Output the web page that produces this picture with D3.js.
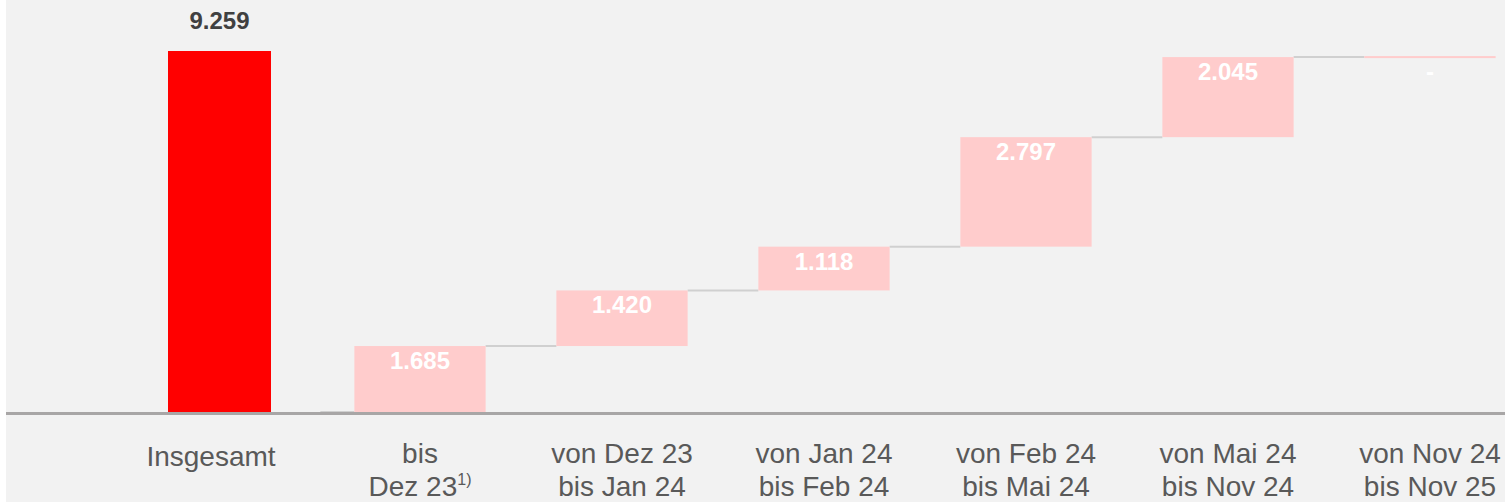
<!DOCTYPE html>
<html>
<head>
<meta charset="utf-8">
<script src="https://cdn.jsdelivr.net/npm/d3@7"></script>
<style>
  html, body { margin: 0; padding: 0; background: #ffffff; }
  svg { display: block; }
  text { font-family: "Liberation Sans", Arial, sans-serif; }
</style>
</head>
<body>
<div id="chart"></div>
<script>
"use strict";

// data
const totalLabel = "Insgesamt";
const totalValue = 9.259;
const stepLines1 = ["bis", "von Dez 23", "von Jan 24", "von Feb 24", "von Mai 24", "von Nov 24"];
const stepLines2 = ["Dez 23", "bis Jan 24", "bis Feb 24", "bis Mai 24", "bis Nov 24", "bis Nov 25"];
const stepValues = [1.685, 1.420, 1.118, 2.797, 2.045, 0];
const stepLabels = ["1.685", "1.420", "1.118", "2.797", "2.045", "-"];

const width = 1505;
const height = 502;

const svg = d3.select("#chart")
    .append("svg")
    .attr("width", width)
    .attr("height", height);

// background panel
svg.append("rect")
    .attr("x", 6)
    .attr("y", 0)
    .attr("width", width - 6)
    .attr("height", height)
    .attr("fill", "#f2f2f2");

const categories = [totalLabel].concat(stepLines1.map((d, i) => i + ""));

const xScale = d3.scaleBand()
    .domain(categories)
    .range([117, 1531])
    .paddingInner(0.35)
    .paddingOuter(0.175);

const yScale = d3.scaleLinear()
    .domain([0, totalValue])
    .range([412, 49.5]);

// running totals for waterfall
let run = 0;
const steps = stepValues.map((v, i) => {
    const start = run;
    run += v;
    return { key: i + "", start: start, end: run, label: stepLabels[i] };
});

// total bar (narrower)
const totalW = 103;
const totalX = xScale(totalLabel) + xScale.bandwidth() / 2 - totalW / 2 + 1.5;
svg.append("rect")
    .attr("x", totalX)
    .attr("y", yScale(totalValue) + 1.5)
    .attr("width", totalW)
    .attr("height", yScale(0) - yScale(totalValue) - 1.5)
    .attr("fill", "#ff0000");

svg.append("text")
    .attr("x", totalX + totalW / 2)
    .attr("y", 29)
    .attr("text-anchor", "middle")
    .attr("font-size", 24)
    .attr("font-weight", "bold")
    .attr("fill", "#404040")
    .text("9.259");

// connectors
const connectors = steps.map((d, i) => ({
    x1: i === 0 ? xScale(d.key) - 34 : xScale(steps[i - 1].key) + xScale.bandwidth(),
    x2: xScale(d.key),
    v: d.start
}));

svg.selectAll("line.conn")
    .data(connectors)
    .enter()
    .append("line")
    .attr("class", "conn")
    .attr("x1", d => d.x1)
    .attr("x2", d => d.x2)
    .attr("y1", d => yScale(d.v))
    .attr("y2", d => yScale(d.v))
    .attr("stroke", "#d0d0d0")
    .attr("stroke-width", 2);

// step bars
svg.selectAll("rect.step")
    .data(steps)
    .enter()
    .append("rect")
    .attr("class", "step")
    .attr("x", d => xScale(d.key))
    .attr("y", d => yScale(d.end) - (d.end === d.start ? 1 : 0))
    .attr("width", xScale.bandwidth())
    .attr("height", d => Math.max(2, yScale(d.start) - yScale(d.end)))
    .attr("fill", "#ffcccc");

svg.selectAll("text.val")
    .data(steps)
    .enter()
    .append("text")
    .attr("class", "val")
    .attr("x", d => xScale(d.key) + xScale.bandwidth() / 2)
    .attr("y", d => yScale(d.end) + 23)
    .attr("text-anchor", "middle")
    .attr("font-size", 24)
    .attr("font-weight", "bold")
    .attr("fill", "#ffffff")
    .text(d => d.label);

// axis line
svg.append("line")
    .attr("x1", 6)
    .attr("x2", width)
    .attr("y1", 413.5)
    .attr("y2", 413.5)
    .attr("stroke", "#a8a6a6")
    .attr("stroke-width", 3);

// category labels
svg.append("text")
    .attr("x", xScale(totalLabel) + xScale.bandwidth() / 2 - 7)
    .attr("y", 466)
    .attr("text-anchor", "middle")
    .attr("font-size", 28)
    .attr("fill", "#595959")
    .text(totalLabel);

const catLabels = svg.selectAll("text.cat")
    .data(steps)
    .enter()
    .append("text")
    .attr("class", "cat")
    .attr("x", d => xScale(d.key) + xScale.bandwidth() / 2)
    .attr("y", 463)
    .attr("text-anchor", "middle")
    .attr("font-size", 28)
    .attr("fill", "#595959");

catLabels.append("tspan")
    .attr("x", d => xScale(d.key) + xScale.bandwidth() / 2)
    .text((d, i) => stepLines1[i]);

catLabels.append("tspan")
    .attr("x", d => xScale(d.key) + xScale.bandwidth() / 2)
    .attr("dy", 33)
    .text((d, i) => stepLines2[i])
    .filter((d, i) => i === 0)
    .append("tspan")
    .attr("font-size", 16)
    .attr("dy", -11)
    .text("1)");
</script>
</body>
</html>
